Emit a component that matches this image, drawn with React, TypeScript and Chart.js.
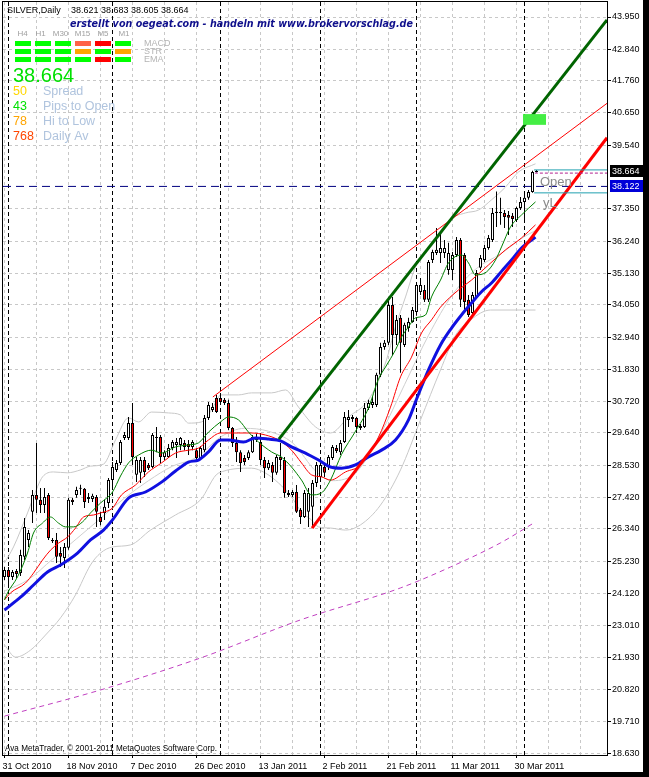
import React, { useEffect, useRef } from 'react';
import { Chart, registerables } from 'chart.js';

Chart.register(...registerables);

// ---------------- data ----------------
const opens = [
  24.69, 24.93, 24.69, 24.89, 24.82, 25.38, 25.96, 26.93, 27.51, 27.34,
  27.16, 27.51, 25.96, 25.96, 25.51, 25.34, 25.69, 27.34, 27.51, 27.72,
  27.72, 27.37, 27.37, 27.44, 26.75, 26.89, 27.23, 28.02, 28.37, 28.61,
  29.47, 29.47, 29.98, 28.20, 28.27, 28.71, 28.54, 28.47, 29.47, 29.50,
  28.81, 28.81, 29.12, 29.23, 29.23, 29.30, 29.26, 29.16, 29.05, 28.78,
  29.05, 30.16, 30.43, 30.84, 30.84, 30.78, 30.67, 29.81, 29.30, 28.98,
  28.78, 28.78, 28.98, 29.40, 29.33, 28.71, 28.43, 28.54, 28.27, 28.81,
  28.71, 27.58, 27.51, 27.61, 27.00, 26.75, 26.93, 27.10, 27.92, 28.13,
  28.47, 28.47, 28.78, 29.12, 28.98, 29.33, 30.09, 30.12, 30.16, 29.88,
  29.85, 30.50, 30.60, 30.60, 31.64, 32.60, 32.74, 34.04, 33.01, 33.60,
  32.67, 33.25, 33.46, 33.80, 34.49, 34.56, 34.22, 35.59, 35.83, 35.83,
  35.83, 35.25, 35.25, 35.76, 36.28, 35.76, 34.22, 33.77, 34.32, 35.32,
  35.59, 36.00, 36.28, 37.21, 37.24, 37.21, 37.14, 37.11, 36.97, 37.38,
  37.59, 37.73, 37.93, 38.621,
];
const highs = [
  25.03, 25.03, 24.93, 24.96, 25.62, 26.72, 26.30, 27.68, 29.30, 27.75,
  27.75, 27.58, 26.03, 26.20, 25.72, 25.86, 27.41, 27.41, 27.79, 27.86,
  27.75, 27.58, 27.55, 27.51, 26.93, 27.34, 28.09, 28.64, 28.71, 29.40,
  29.67, 30.19, 30.67, 28.81, 28.81, 28.81, 28.61, 29.64, 29.85, 29.57,
  29.05, 29.26, 29.40, 29.47, 29.50, 29.40, 29.40, 29.40, 29.12, 29.19,
  30.26, 30.71, 30.67, 30.95, 31.02, 30.84, 30.78, 29.85, 29.50, 29.05,
  28.88, 29.05, 29.57, 29.61, 29.64, 28.81, 28.71, 28.64, 28.88, 29.30,
  28.81, 27.68, 27.68, 27.85, 27.06, 27.68, 27.75, 28.02, 28.64, 28.64,
  28.61, 28.88, 29.23, 29.23, 29.40, 30.36, 30.43, 30.26, 30.19, 29.95,
  30.67, 30.78, 30.88, 31.71, 32.74, 32.84, 34.32, 34.32, 33.70, 33.70,
  33.43, 33.60, 33.97, 34.80, 34.97, 34.73, 35.59, 35.94, 36.69, 36.52,
  36.28, 36.18, 35.87, 36.38, 36.35, 35.83, 34.39, 34.49, 35.25, 35.76,
  36.11, 36.45, 37.38, 37.95, 37.73, 37.31, 37.28, 37.21, 37.42, 37.76,
  37.90, 38.00, 38.66, 38.683,
];
const lows = [
  24.58, 24.31, 24.58, 24.65, 24.72, 25.27, 25.72, 26.54, 26.89, 26.89,
  26.89, 25.96, 25.86, 25.17, 25.03, 25.00, 25.62, 27.16, 27.41, 27.51,
  27.06, 27.23, 27.27, 26.41, 26.47, 26.65, 27.06, 27.68, 28.30, 28.54,
  29.40, 29.40, 28.54, 27.95, 27.92, 28.13, 28.37, 28.43, 28.98, 28.61,
  28.71, 28.78, 29.05, 28.78, 29.05, 29.05, 28.88, 29.05, 28.71, 28.71,
  28.98, 30.09, 30.36, 30.33, 30.60, 30.60, 29.74, 29.16, 28.64, 28.30,
  28.54, 28.71, 28.95, 29.33, 28.54, 28.09, 28.37, 27.95, 28.20, 28.37,
  27.41, 27.44, 27.44, 26.89, 26.51, 26.72, 26.41, 26.37, 27.78, 28.02,
  28.13, 28.37, 28.71, 28.95, 28.88, 29.30, 29.85, 30.02, 29.64, 29.74,
  29.81, 30.43, 30.50, 30.53, 31.57, 32.50, 32.67, 32.32, 32.67, 31.71,
  32.60, 33.12, 33.43, 33.67, 34.39, 34.15, 34.15, 35.49, 35.76, 35.49,
  35.66, 35.08, 34.90, 35.69, 33.97, 33.80, 33.63, 33.70, 34.29, 35.25,
  35.52, 35.94, 36.21, 36.73, 36.80, 36.69, 36.45, 36.73, 36.90, 37.31,
  36.97, 37.66, 37.90, 38.605,
];
const closes = [
  24.93, 24.69, 24.86, 24.79, 25.44, 26.41, 26.20, 27.51, 27.34, 27.16,
  27.44, 26.03, 25.92, 25.38, 25.38, 25.72, 27.34, 27.27, 27.68, 27.76,
  27.27, 27.44, 27.48, 26.93, 26.58, 27.10, 28.02, 28.47, 28.61, 29.33,
  29.57, 29.98, 28.81, 28.71, 28.71, 28.30, 28.43, 29.57, 29.50, 28.81,
  28.98, 29.12, 29.33, 29.33, 29.47, 29.16, 29.16, 29.33, 28.78, 29.12,
  30.16, 30.60, 30.53, 30.36, 30.71, 30.67, 29.81, 29.30, 28.98, 28.61,
  28.64, 28.98, 29.50, 29.50, 28.71, 28.43, 28.61, 28.27, 28.81, 28.71,
  27.58, 27.51, 27.61, 26.93, 26.75, 27.58, 27.58, 27.92, 28.54, 28.54,
  28.27, 28.81, 29.16, 29.02, 29.30, 30.19, 30.19, 30.19, 29.85, 29.81,
  30.50, 30.67, 30.71, 31.64, 32.60, 32.74, 34.04, 33.01, 33.53, 32.74,
  33.36, 33.46, 33.87, 34.73, 34.73, 34.22, 35.52, 35.87, 35.94, 36.00,
  36.00, 35.83, 35.76, 36.28, 34.22, 34.15, 33.70, 34.39, 35.14, 35.66,
  36.00, 36.35, 37.21, 37.25, 37.21, 37.07, 37.04, 37.00, 37.38, 37.59,
  37.73, 37.93, 38.62, 38.664,
];

// quote header
const quoteOpen = 38.621;
const quoteHigh = 38.683;
const quoteLow = 38.605;
const quoteClose = 38.664;
const levelLine = 38.122;
const boxTop = 38.69;
const boxBottom = 37.9;
const magentaLevel = 38.58;
const greenBoxRange = [40.24, 40.61];
const greenBoxIndex = 132.5;

// axes
const yTickValues = [43.95, 42.84, 41.76, 40.65, 39.54, 37.35, 36.24, 35.13, 34.05, 32.94, 31.83, 30.72,
  29.64, 28.53, 27.42, 26.34, 25.23, 24.12, 23.01, 21.93, 20.82, 19.71, 18.63];
const xLabelIndex = [0, 16, 32, 48, 64, 80, 96, 112, 128];
const xLabelText = ['31 Oct 2010', '18 Nov 2010', '7 Dec 2010', '26 Dec 2010', '13 Jan 2011',
  '2 Feb 2011', '21 Feb 2011', '11 Mar 2011', '30 Mar 2011'];
const xGridIndex = [0, 8, 16, 24, 32, 40, 48, 56, 64, 72, 80, 88, 96, 104, 112, 120, 128, 136, 144];
const monthStarts = [1, 27, 54, 79, 103, 130];

// indicator lines [barIndex, price]
const maBlue = [[0, 23.55], [4, 23.99], [7.25, 24.41], [10.75, 24.86], [14, 25.1], [18.25, 25.51], [21.5, 25.96],
  [24.75, 26.3], [27, 26.65], [31, 27.4], [35.25, 27.61], [39.25, 27.95], [42.75, 28.33], [46, 28.64],
  [48.5, 28.71], [51, 28.99], [54, 29.4], [56, 29.4], [59.75, 29.33], [62.75, 29.47], [66, 29.43],
  [69, 29.37], [71.75, 29.16], [75.25, 28.95], [78.5, 28.71], [81.5, 28.47], [84.25, 28.43],
  [87.75, 28.54], [91, 28.82], [94.25, 29.05], [97.75, 29.4], [101, 30.09], [103, 30.8], [106, 31.81],
  [109, 32.67], [111.75, 33.25], [114.25, 33.7], [116.75, 34.11], [119.25, 34.5], [121.75, 34.8],
  [124.25, 35.2], [126.75, 35.59], [129.25, 36.0], [132.75, 36.38]];
const maRed = [[0, 23.9], [1.5, 24.14], [5.25, 24.48], [7.25, 24.82], [9.5, 25.27], [11.5, 25.61], [13.5, 25.85],
  [15.75, 26.06], [17.75, 26.37], [19.75, 26.75], [22.25, 26.82], [24, 26.89], [27, 27.06], [29.25, 27.51],
  [32.75, 27.85], [36, 28.3], [39.25, 28.61], [42.75, 28.95], [46, 29.05], [48.5, 29.12], [51, 29.4],
  [54, 29.64], [58.5, 29.64], [61.75, 29.64], [65.25, 29.57], [68.5, 29.4], [71.75, 29.05], [74.25, 28.61],
  [76.75, 28.2], [79.25, 28.13], [81.5, 28.02], [85.25, 28.3], [89, 28.54], [93.5, 29.5], [96.5, 30.53],
  [99, 31.57], [101.75, 32.25], [104.25, 33.08], [106.75, 33.53], [109, 33.97], [113.5, 34.56],
  [116.75, 34.9], [121, 35.42], [125.25, 35.94], [129.25, 36.35], [132.75, 36.8]];
const maGreen = [[0, 23.9], [0.75, 24.14], [3.25, 24.69], [5.75, 25.51], [7.25, 26.2], [9.5, 26.54], [11.5, 26.75],
  [13.5, 26.54], [15.25, 26.41], [17.25, 26.41], [19.5, 26.58], [21.5, 26.89], [24, 27.23], [27, 27.61],
  [29, 28.16], [31, 28.61], [33.5, 28.88], [36.75, 29.05], [39.25, 28.95], [42.75, 29.16], [46, 29.23],
  [48.5, 29.3], [51, 29.67], [54, 30.02], [56, 30.19], [58.5, 30.09], [61, 29.67], [63.5, 29.33],
  [66.75, 28.99], [69.25, 28.81], [71.75, 28.47], [74.25, 28.02], [76.75, 27.51], [79.25, 27.58],
  [81.5, 28.02], [84.25, 28.9], [87.75, 29.7], [91, 30.5], [93.5, 31.5], [95.25, 31.91], [97.75, 32.5],
  [99.25, 32.94], [101, 33.29], [102.75, 33.6], [105.25, 33.7], [106.75, 34.32], [109, 34.9], [111, 35.49],
  [114.25, 35.76], [116, 35.49], [117.75, 35.08], [120.5, 35.18], [122.75, 35.59], [124.25, 36.04],
  [126.5, 36.73], [129.25, 37.14], [132.75, 37.59]];
const bandUpper = [[0, 25.17], [2.25, 25.72], [5.75, 26.89], [8.25, 27.79], [9.5, 28.13], [12.25, 28.3],
  [15.75, 28.27], [19, 28.37], [21.5, 28.5], [24.75, 28.57], [27.75, 29.4], [31, 30.16], [33.5, 30.02],
  [36.75, 30.36], [41, 30.33], [44, 30.26], [46, 29.98], [49.25, 30.02], [52.75, 30.67], [54, 30.95],
  [58.5, 30.95], [61.75, 31.02], [66.75, 31.02], [70.25, 31.12], [73.5, 30.53], [77.75, 29.85],
  [81.5, 29.64], [86, 30.19], [91, 30.78], [95.25, 32.05], [97.75, 33.29], [100.25, 34.32], [102.75, 35.35],
  [105.25, 35.83], [109, 36.45], [111.75, 37.0], [115.25, 37.21], [118.5, 37.31], [121.75, 37.66],
  [125.25, 38.1], [128.5, 38.62], [132.75, 38.9]];
const bandMiddle = [[0, 24.2], [6, 24.6], [12, 25.3], [18, 26.0], [24, 26.7], [30, 27.4], [36, 28.0], [42, 28.5],
  [48, 28.8], [54, 29.5], [60, 29.8], [66, 29.7], [72, 29.3], [78, 28.3], [82, 28.0], [88, 28.3], [94, 29.6],
  [100, 31.3], [106, 33.0], [112, 34.4], [118, 35.3], [124, 35.8], [130, 36.4], [132.75, 36.6]];
const bandLower = [[0, 22.35], [2.75, 21.93], [6.5, 22.17], [10.25, 22.69], [14, 23.28], [17.75, 24.07],
  [21.5, 25.1], [24, 25.51], [27, 25.72], [31.5, 25.79], [36.5, 26.3], [42.75, 26.82], [49, 27.34],
  [53.5, 28.26], [61.75, 28.43], [65.25, 28.26], [68.5, 27.92], [71.75, 27.44], [74.25, 26.92],
  [76.75, 26.65], [78.5, 26.41], [81.5, 26.37], [85.25, 26.3], [89, 26.48], [94, 27.16], [99, 28.37],
  [104, 30.09], [109, 31.81], [112.75, 33.0], [116.5, 33.53], [121.5, 33.87], [132.75, 33.87]];
const ma200 = [[0, 19.9], [24, 20.8], [49, 21.9], [74, 23.21], [99, 24.31], [111.5, 25.03], [124, 25.86],
  [132.75, 26.58]];

const trendGreen = [[68.6, 29.43], [150.625, 43.85]];
const trendRedThin = [[52.1, 30.88], [150.625, 40.98]];
const trendRedThick = [[76.9, 26.37], [150.625, 39.8]];

// info panel texts
const tfLabels = ['H4', 'H1', 'M30', 'M15', 'M5', 'M1'];
const tfCenters = [22.5, 40.5, 60.5, 82.5, 103, 124];
const signalNames = ['MACD', 'STR', 'EMA'];
const signalRows = [
  ['#00ff00', '#00ff00', '#00ff00', '#ff6347', '#ff0000', '#00ff00'],
  ['#00ff00', '#00ff00', '#00ff00', '#ffa500', '#00ff00', '#ffa500'],
  ['#00ff00', '#00ff00', '#00ff00', '#00ff00', '#ff0000', '#00ff00'],
];
const statValues = ['50', '43', '78', '768'];
const statLabels = ['Spread', 'Pips to Open', 'Hi to Low', 'Daily Av'];
const statColors = ['#ffd700', '#00e000', '#ffa500', '#ff4500'];

const X_MIN = -0.375;
const X_MAX = 150.625;
const Y_MIN = 18.563;
const Y_MAX = 44.466;

const FONT = '"Liberation Sans", Arial, sans-serif';

const pts = (arr: number[][]) => arr.map((p) => ({ x: p[0], y: p[1] }));

const lineDs = (data: any[], color: string, width: number, order: number, extra: any = {}) => ({
  type: 'line',
  data,
  borderColor: color,
  borderWidth: width,
  pointRadius: 0,
  pointHoverRadius: 0,
  fill: false,
  tension: 0,
  order,
  ...extra,
});

const overlayPlugin = {
  id: 'mt4overlay',
  afterDraw(chart: any) {
    const { ctx, chartArea: a, scales } = chart;
    const ys = scales.y;
    ctx.save();
    // frame
    ctx.strokeStyle = '#000';
    ctx.lineWidth = 1;
    ctx.strokeRect(a.left - 0.5, a.top - 0.5, a.right - a.left + 1, a.bottom - a.top + 1);

    ctx.textAlign = 'left';
    ctx.textBaseline = 'middle';
    // title
    ctx.fillStyle = '#000';
    ctx.font = `9px ${FONT}`;
    ctx.fillText('SILVER,Daily', 7, 10.5);
    ctx.fillText(
      `${quoteOpen.toFixed(3)} ${quoteHigh.toFixed(3)} ${quoteLow.toFixed(3)} ${quoteClose.toFixed(3)}`,
      71, 10.5);

    // credit line
    ctx.font = 'italic bold 10.5px "DejaVu Sans", sans-serif';
    ctx.fillStyle = '#10108c';
    ctx.fillText('erstellt von oegeat.com - handeln mit www.brokervorschlag.de', 70, 24, 343);

    // timeframe header
    ctx.font = `8px ${FONT}`;
    ctx.fillStyle = '#a0a0a0';
    ctx.textAlign = 'center';
    tfLabels.forEach((t, k) => ctx.fillText(t, tfCenters[k], 33.5));
    ctx.textAlign = 'left';
    signalRows.forEach((row, r) =>
      row.forEach((c, k) => {
        ctx.fillStyle = c;
        ctx.fillRect(15 + 20 * k, 41 + 8 * r, 16, 5);
      }));
    ctx.font = `9px ${FONT}`;
    ctx.fillStyle = '#b4b4b4';
    signalNames.forEach((t, r) => ctx.fillText(t, 144, 43.5 + 8 * r));

    // big price
    ctx.textBaseline = 'alphabetic';
    ctx.font = `20px ${FONT}`;
    ctx.fillStyle = '#00e000';
    ctx.fillText(quoteClose.toFixed(3), 13, 82);

    // stats
    ctx.font = `12.5px ${FONT}`;
    statValues.forEach((v, k) => {
      ctx.fillStyle = statColors[k];
      ctx.fillText(v, 13, 95 + 15 * k);
      ctx.fillStyle = '#b0c4de';
      ctx.fillText(statLabels[k], 43, 95 + 15 * k);
    });

    // labels near last bar
    ctx.font = `13px ${FONT}`;
    ctx.fillStyle = '#8a8a8a';
    ctx.fillText('Open', 540, 185.5);
    ctx.fillText('yL', 543, 207);

    // watermark
    ctx.textBaseline = 'middle';
    ctx.font = `9px ${FONT}`;
    ctx.fillStyle = '#000';
    ctx.fillText('Ava MetaTrader, \u00a9 2001-2011 MetaQuotes Software Corp.', 5, 748.5, 212);

    // price tags on the axis
    const tag = (val: number, bg: string) => {
      const py = Math.round(ys.getPixelForValue(val));
      ctx.fillStyle = bg;
      ctx.fillRect(a.right + 3, py - 6, 40, 12);
      ctx.fillStyle = '#fff';
      ctx.font = `9px ${FONT}`;
      ctx.fillText(val.toFixed(3), a.right + 5, py + 0.5);
    };
    tag(levelLine, '#0000d8');
    tag(quoteClose, '#000000');
    ctx.restore();
  },
};

export default function App() {
  const ref = useRef<HTMLCanvasElement>(null);

  useEffect(() => {
    document.body.style.margin = '0';
    const canvas = ref.current;
    if (!canvas) return;

    const bodies = closes.map((c, i) => ({ x: i, y: [opens[i], c] }));
    const wicks = highs.map((h, i) => ({ x: i, y: [lows[i], h] }));
    const bodyColors = closes.map((c, i) => (c >= opens[i] ? '#ffffff' : '#ff0000'));

    const datasets: any[] = [
      {
        type: 'bar',
        data: [{ x: greenBoxIndex, y: greenBoxRange }],
        backgroundColor: '#44ee44',
        borderWidth: 0,
        barThickness: 23,
        grouped: false,
        inflateAmount: 0,
        order: 0,
      },
      lineDs(pts([[132.4, boxTop], [X_MAX, boxTop]]), '#20a0b0', 1, 1),
      lineDs(pts([[132.4, boxBottom], [X_MAX, boxBottom]]), '#20a0b0', 1, 1),
      lineDs(pts([[132.6, magentaLevel], [X_MAX, magentaLevel]]), '#b0208f', 1, 1, { borderDash: [3, 2] }),
      lineDs(pts(trendGreen), '#006400', 3, 2),
      lineDs(pts(trendRedThick), '#ff0000', 3, 2),
      lineDs(pts(trendRedThin), '#ff0000', 1, 2),
      lineDs(pts([[X_MIN, levelLine], [X_MAX, levelLine]]), '#000080', 1, 3, { borderDash: [8, 5] }),
      lineDs(pts(maBlue), '#1010e0', 3, 4, { cubicInterpolationMode: 'monotone' }),
      lineDs(pts(maGreen), '#008000', 1, 5, { cubicInterpolationMode: 'monotone' }),
      lineDs(pts(maRed), '#ff0000', 1, 6, { cubicInterpolationMode: 'monotone' }),
      {
        type: 'bar',
        data: bodies,
        backgroundColor: bodyColors,
        borderColor: '#000000',
        borderWidth: 1,
        borderSkipped: false,
        barThickness: 3,
        grouped: false,
        inflateAmount: 0,
        order: 7,
      },
      {
        type: 'bar',
        data: wicks,
        backgroundColor: '#000000',
        borderWidth: 0,
        barThickness: 1,
        grouped: false,
        inflateAmount: 0,
        order: 8,
      },
      lineDs(pts(bandUpper), '#c8c8c8', 1, 9, { cubicInterpolationMode: 'monotone' }),
      lineDs(pts(bandMiddle), '#cfcfcf', 1, 9, { cubicInterpolationMode: 'monotone' }),
      lineDs(pts(bandLower), '#c8c8c8', 1, 9, { cubicInterpolationMode: 'monotone' }),
      lineDs(pts(ma200), '#c040c0', 1, 10, { borderDash: [5, 4], cubicInterpolationMode: 'monotone' }),
      ...monthStarts.map((m) =>
        lineDs(pts([[m, Y_MIN], [m, Y_MAX]]), '#000000', 1, 11, { borderDash: [4, 3] })),
    ];

    const chart = new Chart(canvas, {
      type: 'line',
      data: { datasets },
      options: {
        animation: false,
        responsive: false,
        maintainAspectRatio: false,
        devicePixelRatio: 1,
        events: [],
        layout: { padding: { left: 3, top: 2, right: 0, bottom: 0 } },
        plugins: {
          legend: { display: false },
          tooltip: { enabled: false },
          title: { display: false },
        },
        scales: {
          x: {
            type: 'linear',
            position: 'bottom',
            min: X_MIN,
            max: X_MAX,
            bounds: 'data',
            offset: false,
            afterBuildTicks: (s: any) => {
              s.ticks = xGridIndex.map((v) => ({ value: v }));
            },
            afterFit: (s: any) => {
              s.height = 17;
              s.paddingLeft = 0;
              s.paddingRight = 0;
              s.paddingTop = 0;
              s.paddingBottom = 0;
            },
            grid: {
              color: '#c8c8c8',
              offset: false,
              drawTicks: true,
              tickLength: 3,
              tickBorderDash: [],
              tickColor: (c: any) => (c.tick && xLabelIndex.includes(c.tick.value) ? '#000' : 'rgba(0,0,0,0)'),
            },
            border: { display: true, color: '#000', width: 1, dash: [3, 3] },
            ticks: {
              autoSkip: false,
              maxRotation: 0,
              minRotation: 0,
              align: 'start',
              labelOffset: -2,
              padding: 3,
              color: '#000',
              font: { family: FONT, size: 9 },
              callback: (v: any) => {
                const k = xLabelIndex.indexOf(Number(v));
                return k >= 0 ? xLabelText[k] : '';
              },
            },
          },
          y: {
            type: 'linear',
            position: 'right',
            min: Y_MIN,
            max: Y_MAX,
            bounds: 'data',
            afterBuildTicks: (s: any) => {
              s.ticks = yTickValues.map((v) => ({ value: v }));
            },
            afterFit: (s: any) => {
              s.width = 36;
              s.paddingLeft = 0;
              s.paddingRight = 0;
              s.paddingTop = 0;
              s.paddingBottom = 0;
            },
            grid: {
              color: '#c8c8c8',
              drawTicks: true,
              tickLength: 4,
              tickBorderDash: [],
              tickColor: '#000',
            },
            border: { display: true, color: '#000', width: 1, dash: [3, 3] },
            ticks: {
              autoSkip: false,
              padding: 1,
              color: '#000',
              font: { family: FONT, size: 9 },
              callback: (v: any) => Number(v).toFixed(3),
            },
          },
        },
      },
      plugins: [overlayPlugin],
    } as any);

    return () => chart.destroy();
  }, []);

  return (
    <div style={{ width: 649, height: 777, background: '#000', position: 'relative', overflow: 'hidden' }}>
      <canvas
        ref={ref}
        width={643}
        height={772}
        style={{ display: 'block', width: 643, height: 772, background: '#fff' }}
      />
    </div>
  );
}
